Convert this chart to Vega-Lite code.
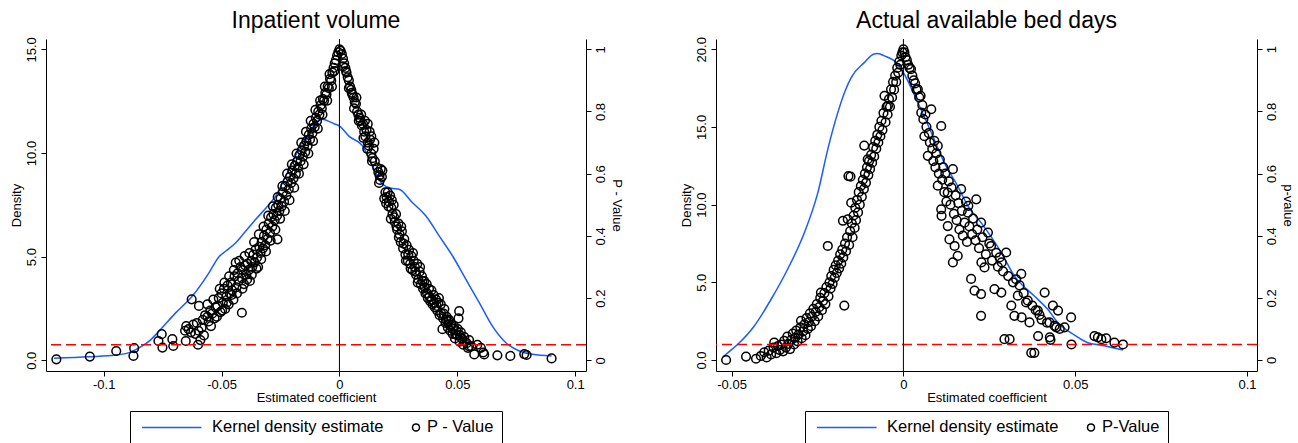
{
  "$schema": "https://vega.github.io/schema/vega-lite/v6.json",
  "padding": {"left": 10, "top": 9, "right": 5, "bottom": 0},
  "background": "white",
  "bounds": "flush",
  "spacing": 130,
  "config": {
    "font": "Liberation Sans",
    "view": {"stroke": null},
    "axis": {"domainColor": "black", "tickColor": "black", "labelColor": "black", "titleColor": "black", "grid": false, "labelFontSize": 13, "titleFontSize": 13, "titleFontWeight": "normal", "tickSize": 5, "domainWidth": 1, "tickWidth": 1, "labelFont": "Liberation Sans", "titleFont": "Liberation Sans"},
    "title": {"fontSize": 23, "fontWeight": "normal", "color": "black", "font": "Liberation Sans", "offset": 0},
    "legend": {"orient": "bottom", "direction": "horizontal", "labelFontSize": 16.5, "labelFont": "Liberation Sans", "labelColor": "black", "labelLimit": 0, "strokeColor": "black", "strokeWidth": 1, "padding": 8, "symbolSize": 49, "symbolStrokeWidth": 1.5, "symbolOpacity": 1, "columnPadding": 25, "offset": 7, "layout": {"bottom": {"anchor": "middle"}}}
  },
  "resolve": {"scale": {"color": "independent", "shape": "independent"}, "legend": {"color": "independent", "shape": "independent"}},
  "hconcat": [
    {
      "width": 540,
      "height": 332,
      "title": {"text": "Inpatient volume"},
      "resolve": {"scale": {"y": "independent"}},
      "layer": [
        {
          "data": {"values": [
            {"coef": -0.1211, "density": 0.10}, {"coef": -0.1062, "density": 0.17}, {"coef": -0.0950, "density": 0.25}, {"coef": -0.0893, "density": 0.37}, {"coef": -0.0836, "density": 0.69}, {"coef": -0.0800, "density": 1.0}, {"coef": -0.0765, "density": 1.41}, {"coef": -0.0694, "density": 2.3}, {"coef": -0.0624, "density": 3.1}, {"coef": -0.0553, "density": 4.23}, {"coef": -0.0511, "density": 5.0}, {"coef": -0.0482, "density": 5.27}, {"coef": -0.0440, "density": 5.67}, {"coef": -0.0400, "density": 6.2}, {"coef": -0.0355, "density": 6.8}, {"coef": -0.0300, "density": 7.5}, {"coef": -0.0270, "density": 7.93}, {"coef": -0.0228, "density": 8.89}, {"coef": -0.0200, "density": 9.53}, {"coef": -0.0160, "density": 10.5}, {"coef": -0.0129, "density": 10.95}, {"coef": -0.0100, "density": 11.45}, {"coef": -0.0072, "density": 11.63}, {"coef": -0.0050, "density": 11.55}, {"coef": -0.0020, "density": 11.4}, {"coef": 0.0000, "density": 11.3}, {"coef": 0.0041, "density": 10.8}, {"coef": 0.0098, "density": 10.34}, {"coef": 0.0140, "density": 9.37}, {"coef": 0.0183, "density": 8.49}, {"coef": 0.0220, "density": 8.3}, {"coef": 0.0253, "density": 8.25}, {"coef": 0.0310, "density": 7.6}, {"coef": 0.0367, "density": 6.96}, {"coef": 0.0423, "density": 6.0}, {"coef": 0.0480, "density": 5.03}, {"coef": 0.0536, "density": 3.91}, {"coef": 0.0593, "density": 2.78}, {"coef": 0.0649, "density": 1.65}, {"coef": 0.0706, "density": 0.85}, {"coef": 0.0763, "density": 0.45}, {"coef": 0.0819, "density": 0.29}, {"coef": 0.0900, "density": 0.21}
          ]},
          "mark": {"type": "line", "strokeWidth": 1.5, "interpolate": "monotone"},
          "encoding": {
            "x": {"field": "coef", "type": "quantitative", "scale": {"domain": [-0.1245, 0.1046], "nice": false, "zero": false},
                  "axis": {"title": "Estimated coefficient", "values": [-0.1, -0.05, 0, 0.05, 0.1], "format": "~g", "labelExpr": "replace(datum.label, '−', '-')", "labelPadding": 2, "titlePadding": 0}},
            "y": {"field": "density", "type": "quantitative", "scale": {"domain": [-0.516, 15.497], "nice": false, "zero": false},
                  "axis": {"title": "Density", "values": [0, 5, 10, 15], "format": ".1f", "labelAngle": -90, "labelAlign": "center", "labelBaseline": "bottom", "labelPadding": 3, "titlePadding": 2}},
            "color": {"datum": "Kernel density estimate", "type": "nominal", "scale": {"domain": ["Kernel density estimate", "P - Value"], "range": ["#1a5cff", "black"]},
                      "legend": {"title": null, "encode": {"symbols": {"update": {"x": {"signal": "datum.index === 0 ? 60 : 4"}}}, "labels": {"update": {"x": {"signal": "datum.index === 0 ? 74 : 15"}}}}}}
          }
        },
        {
          "data": {"values": [
            {"coef": -0.1201, "p": 0.003}, {"coef": -0.1059, "p": 0.012}, {"coef": -0.0947, "p": 0.030}, {"coef": -0.0871, "p": 0.039}, {"coef": -0.0874, "p": 0.014}, {"coef": -0.0768, "p": 0.062}, {"coef": -0.0754, "p": 0.084}, {"coef": -0.0751, "p": 0.041}, {"coef": -0.0709, "p": 0.068}, {"coef": -0.0705, "p": 0.046}, {"coef": -0.0652, "p": 0.062}, {"coef": -0.0627, "p": 0.196}, {"coef": -0.0596, "p": 0.175},
            {"coef": -0.0655, "p": 0.095}, {"coef": -0.0650, "p": 0.110}, {"coef": -0.0640, "p": 0.100}, {"coef": -0.0630, "p": 0.090}, {"coef": -0.0620, "p": 0.115}, {"coef": -0.0612, "p": 0.085}, {"coef": -0.0605, "p": 0.120}, {"coef": -0.0600, "p": 0.050}, {"coef": -0.0598, "p": 0.095}, {"coef": -0.0590, "p": 0.065}, {"coef": -0.0585, "p": 0.105}, {"coef": -0.0580, "p": 0.130}, {"coef": -0.0575, "p": 0.080}, {"coef": -0.0570, "p": 0.145}, {"coef": -0.0560, "p": 0.140}, {"coef": -0.0555, "p": 0.125}, {"coef": -0.0548, "p": 0.160}, {"coef": -0.0540, "p": 0.150}, {"coef": -0.0535, "p": 0.195}, {"coef": -0.0530, "p": 0.135}, {"coef": -0.0525, "p": 0.170}, {"coef": -0.0518, "p": 0.175}, {"coef": -0.0512, "p": 0.200}, {"coef": -0.0505, "p": 0.155}, {"coef": -0.0500, "p": 0.215}, {"coef": -0.0495, "p": 0.185}, {"coef": -0.0490, "p": 0.230}, {"coef": -0.0485, "p": 0.165}, {"coef": -0.0480, "p": 0.205}, {"coef": -0.0475, "p": 0.240}, {"coef": -0.0470, "p": 0.180}, {"coef": -0.0465, "p": 0.215}, {"coef": -0.0460, "p": 0.250}, {"coef": -0.0455, "p": 0.225}, {"coef": -0.0450, "p": 0.195}, {"coef": -0.0445, "p": 0.270}, {"coef": -0.0440, "p": 0.314}, {"coef": -0.0437, "p": 0.235}, {"coef": -0.0432, "p": 0.280}, {"coef": -0.0428, "p": 0.255}, {"coef": -0.0414, "p": 0.153}, {"coef": -0.0420, "p": 0.300}, {"coef": -0.0415, "p": 0.265}, {"coef": -0.0410, "p": 0.290}, {"coef": -0.0405, "p": 0.245}, {"coef": -0.0400, "p": 0.305}, {"coef": -0.0395, "p": 0.275}, {"coef": -0.0390, "p": 0.310}, {"coef": -0.0385, "p": 0.290}, {"coef": -0.0380, "p": 0.255}, {"coef": -0.0375, "p": 0.320}, {"coef": -0.0370, "p": 0.300}, {"coef": -0.0365, "p": 0.340}, {"coef": -0.0360, "p": 0.315}, {"coef": -0.0355, "p": 0.357}, {"coef": -0.0350, "p": 0.330}, {"coef": -0.0345, "p": 0.300}, {"coef": -0.0340, "p": 0.365}, {"coef": -0.0335, "p": 0.345}, {"coef": -0.0330, "p": 0.380}, {"coef": -0.0325, "p": 0.360}, {"coef": -0.0320, "p": 0.400}, {"coef": -0.0315, "p": 0.370}, {"coef": -0.0310, "p": 0.420}, {"coef": -0.0305, "p": 0.390}, {"coef": -0.0300, "p": 0.440}, {"coef": -0.0295, "p": 0.410}, {"coef": -0.0290, "p": 0.460}, {"coef": -0.0285, "p": 0.430}, {"coef": -0.0280, "p": 0.470}, {"coef": -0.0275, "p": 0.450}, {"coef": -0.0270, "p": 0.490}, {"coef": -0.0265, "p": 0.465}, {"coef": -0.0263, "p": 0.389}, {"coef": -0.0260, "p": 0.500}, {"coef": -0.0255, "p": 0.480}, {"coef": -0.0250, "p": 0.520}, {"coef": -0.0245, "p": 0.495}, {"coef": -0.0240, "p": 0.540}, {"coef": -0.0235, "p": 0.510}, {"coef": -0.0230, "p": 0.560}, {"coef": -0.0225, "p": 0.530}, {"coef": -0.0220, "p": 0.575}, {"coef": -0.0215, "p": 0.550}, {"coef": -0.0210, "p": 0.590}, {"coef": -0.0205, "p": 0.570}, {"coef": -0.0200, "p": 0.610}, {"coef": -0.0195, "p": 0.585}, {"coef": -0.0190, "p": 0.625}, {"coef": -0.0185, "p": 0.600}, {"coef": -0.0180, "p": 0.640}, {"coef": -0.0175, "p": 0.620}, {"coef": -0.0170, "p": 0.660}, {"coef": -0.0165, "p": 0.640}, {"coef": -0.0160, "p": 0.675}, {"coef": -0.0155, "p": 0.655}, {"coef": -0.0150, "p": 0.690}, {"coef": -0.0145, "p": 0.670}, {"coef": -0.0140, "p": 0.705}, {"coef": -0.0135, "p": 0.690}, {"coef": -0.0130, "p": 0.725}, {"coef": -0.0125, "p": 0.710}, {"coef": -0.0120, "p": 0.745}, {"coef": -0.0115, "p": 0.730}, {"coef": -0.0110, "p": 0.760}, {"coef": -0.0105, "p": 0.750}, {"coef": -0.0100, "p": 0.780}, {"coef": -0.0095, "p": 0.770}, {"coef": -0.0090, "p": 0.800}, {"coef": -0.0085, "p": 0.790}, {"coef": -0.0080, "p": 0.820}, {"coef": -0.0075, "p": 0.810}, {"coef": -0.0070, "p": 0.840}, {"coef": -0.0065, "p": 0.835}, {"coef": -0.0060, "p": 0.860}, {"coef": -0.0055, "p": 0.855}, {"coef": -0.0050, "p": 0.880}, {"coef": -0.0045, "p": 0.875}, {"coef": -0.0040, "p": 0.905}, {"coef": -0.0035, "p": 0.900}, {"coef": -0.0030, "p": 0.925}, {"coef": -0.0025, "p": 0.940}, {"coef": -0.0020, "p": 0.955}, {"coef": -0.0015, "p": 0.965}, {"coef": -0.0010, "p": 0.980}, {"coef": -0.0005, "p": 0.990}, {"coef": 0.0000, "p": 1.000},
            {"coef": -0.0560, "p": 0.180}, {"coef": -0.0545, "p": 0.110}, {"coef": -0.0520, "p": 0.140}, {"coef": -0.0508, "p": 0.230}, {"coef": -0.0498, "p": 0.160}, {"coef": -0.0488, "p": 0.250}, {"coef": -0.0478, "p": 0.185}, {"coef": -0.0468, "p": 0.270}, {"coef": -0.0458, "p": 0.210}, {"coef": -0.0448, "p": 0.290}, {"coef": -0.0435, "p": 0.215}, {"coef": -0.0425, "p": 0.320}, {"coef": -0.0412, "p": 0.230}, {"coef": -0.0402, "p": 0.335}, {"coef": -0.0392, "p": 0.260}, {"coef": -0.0382, "p": 0.345}, {"coef": -0.0372, "p": 0.275}, {"coef": -0.0362, "p": 0.380}, {"coef": -0.0352, "p": 0.295}, {"coef": -0.0342, "p": 0.405}, {"coef": -0.0332, "p": 0.325}, {"coef": -0.0322, "p": 0.430}, {"coef": -0.0312, "p": 0.350}, {"coef": -0.0302, "p": 0.465}, {"coef": -0.0292, "p": 0.385}, {"coef": -0.0282, "p": 0.495}, {"coef": -0.0272, "p": 0.420}, {"coef": -0.0262, "p": 0.525}, {"coef": -0.0252, "p": 0.455}, {"coef": -0.0242, "p": 0.560}, {"coef": -0.0232, "p": 0.480}, {"coef": -0.0222, "p": 0.600}, {"coef": -0.0212, "p": 0.515}, {"coef": -0.0202, "p": 0.630}, {"coef": -0.0192, "p": 0.555}, {"coef": -0.0182, "p": 0.665}, {"coef": -0.0172, "p": 0.600}, {"coef": -0.0162, "p": 0.700}, {"coef": -0.0152, "p": 0.630}, {"coef": -0.0142, "p": 0.735}, {"coef": -0.0132, "p": 0.665}, {"coef": -0.0122, "p": 0.770}, {"coef": -0.0112, "p": 0.705}, {"coef": -0.0102, "p": 0.805}, {"coef": -0.0092, "p": 0.745}, {"coef": -0.0082, "p": 0.835}, {"coef": -0.0072, "p": 0.790}, {"coef": -0.0062, "p": 0.880}, {"coef": -0.0052, "p": 0.835}, {"coef": -0.0042, "p": 0.920}, {"coef": -0.0032, "p": 0.880}, {"coef": -0.0022, "p": 0.930},
            {"coef": 0.0005, "p": 0.995}, {"coef": 0.0010, "p": 0.985}, {"coef": 0.0015, "p": 0.970}, {"coef": 0.0020, "p": 0.955}, {"coef": 0.0025, "p": 0.940}, {"coef": 0.0030, "p": 0.925}, {"coef": 0.0035, "p": 0.910}, {"coef": 0.0040, "p": 0.900}, {"coef": 0.0045, "p": 0.880}, {"coef": 0.0050, "p": 0.870}, {"coef": 0.0055, "p": 0.855}, {"coef": 0.0060, "p": 0.845}, {"coef": 0.0065, "p": 0.830}, {"coef": 0.0070, "p": 0.825}, {"coef": 0.0075, "p": 0.800}, {"coef": 0.0080, "p": 0.790}, {"coef": 0.0085, "p": 0.780}, {"coef": 0.0090, "p": 0.770}, {"coef": 0.0095, "p": 0.755}, {"coef": 0.0100, "p": 0.760}, {"coef": 0.0105, "p": 0.735}, {"coef": 0.0110, "p": 0.720}, {"coef": 0.0115, "p": 0.740}, {"coef": 0.0120, "p": 0.700}, {"coef": 0.0125, "p": 0.690}, {"coef": 0.0130, "p": 0.710}, {"coef": 0.0135, "p": 0.665}, {"coef": 0.0140, "p": 0.650}, {"coef": 0.0145, "p": 0.680}, {"coef": 0.0150, "p": 0.640}, {"coef": 0.0135, "p": 0.720}, {"coef": 0.0120, "p": 0.760}, {"coef": 0.0165, "p": 0.605}, {"coef": 0.0170, "p": 0.595}, {"coef": 0.0175, "p": 0.615}, {"coef": 0.0180, "p": 0.590}, {"coef": 0.0172, "p": 0.580}, {"coef": 0.0182, "p": 0.610}, {"coef": 0.0168, "p": 0.570}, {"coef": 0.0195, "p": 0.540}, {"coef": 0.0200, "p": 0.525}, {"coef": 0.0205, "p": 0.540}, {"coef": 0.0210, "p": 0.510}, {"coef": 0.0215, "p": 0.530}, {"coef": 0.0220, "p": 0.490}, {"coef": 0.0225, "p": 0.470}, {"coef": 0.0218, "p": 0.455}, {"coef": 0.0230, "p": 0.500}, {"coef": 0.0235, "p": 0.445}, {"coef": 0.0240, "p": 0.470}, {"coef": 0.0245, "p": 0.420}, {"coef": 0.0250, "p": 0.440}, {"coef": 0.0255, "p": 0.405}, {"coef": 0.0260, "p": 0.380}, {"coef": 0.0265, "p": 0.415}, {"coef": 0.0270, "p": 0.360}, {"coef": 0.0275, "p": 0.390}, {"coef": 0.0280, "p": 0.340}, {"coef": 0.0285, "p": 0.370}, {"coef": 0.0290, "p": 0.320}, {"coef": 0.0295, "p": 0.355}, {"coef": 0.0300, "p": 0.310}, {"coef": 0.0305, "p": 0.335}, {"coef": 0.0310, "p": 0.290}, {"coef": 0.0315, "p": 0.320}, {"coef": 0.0320, "p": 0.300}, {"coef": 0.0325, "p": 0.275}, {"coef": 0.0330, "p": 0.310}, {"coef": 0.0335, "p": 0.260}, {"coef": 0.0340, "p": 0.285}, {"coef": 0.0345, "p": 0.245}, {"coef": 0.0350, "p": 0.270}, {"coef": 0.0355, "p": 0.230}, {"coef": 0.0360, "p": 0.255}, {"coef": 0.0365, "p": 0.215}, {"coef": 0.0370, "p": 0.245}, {"coef": 0.0375, "p": 0.200}, {"coef": 0.0380, "p": 0.230}, {"coef": 0.0385, "p": 0.190}, {"coef": 0.0390, "p": 0.225}, {"coef": 0.0395, "p": 0.180}, {"coef": 0.0400, "p": 0.210}, {"coef": 0.0405, "p": 0.170}, {"coef": 0.0410, "p": 0.195}, {"coef": 0.0415, "p": 0.160}, {"coef": 0.0420, "p": 0.185}, {"coef": 0.0425, "p": 0.145}, {"coef": 0.0430, "p": 0.180}, {"coef": 0.0437, "p": 0.100}, {"coef": 0.0440, "p": 0.135}, {"coef": 0.0445, "p": 0.165}, {"coef": 0.0450, "p": 0.120}, {"coef": 0.0455, "p": 0.140}, {"coef": 0.0460, "p": 0.105}, {"coef": 0.0465, "p": 0.130}, {"coef": 0.0470, "p": 0.095}, {"coef": 0.0475, "p": 0.115}, {"coef": 0.0480, "p": 0.085}, {"coef": 0.0485, "p": 0.110}, {"coef": 0.0490, "p": 0.070}, {"coef": 0.0495, "p": 0.095}, {"coef": 0.0500, "p": 0.080}, {"coef": 0.0505, "p": 0.135}, {"coef": 0.0508, "p": 0.158}, {"coef": 0.0510, "p": 0.060}, {"coef": 0.0515, "p": 0.090}, {"coef": 0.0520, "p": 0.070}, {"coef": 0.0525, "p": 0.050}, {"coef": 0.0530, "p": 0.075}, {"coef": 0.0540, "p": 0.055}, {"coef": 0.0545, "p": 0.040}, {"coef": 0.0550, "p": 0.065}, {"coef": 0.0560, "p": 0.045}, {"coef": 0.0572, "p": 0.019}, {"coef": 0.0585, "p": 0.050}, {"coef": 0.0600, "p": 0.040}, {"coef": 0.0610, "p": 0.025}, {"coef": 0.0614, "p": 0.019}, {"coef": 0.0670, "p": 0.016}, {"coef": 0.0725, "p": 0.014}, {"coef": 0.0784, "p": 0.020}, {"coef": 0.0794, "p": 0.017}, {"coef": 0.0900, "p": 0.006},
            {"coef": 0.0015, "p": 0.945}, {"coef": 0.0028, "p": 0.930}, {"coef": 0.0040, "p": 0.875}, {"coef": 0.0052, "p": 0.860}, {"coef": 0.0062, "p": 0.810}, {"coef": 0.0072, "p": 0.845}, {"coef": 0.0082, "p": 0.770}, {"coef": 0.0092, "p": 0.790}, {"coef": 0.0102, "p": 0.715}, {"coef": 0.0108, "p": 0.770}, {"coef": 0.0118, "p": 0.680}, {"coef": 0.0128, "p": 0.735}, {"coef": 0.0138, "p": 0.640}, {"coef": 0.0148, "p": 0.700}, {"coef": 0.0160, "p": 0.620}, {"coef": 0.0190, "p": 0.520}, {"coef": 0.0198, "p": 0.505}, {"coef": 0.0208, "p": 0.495}, {"coef": 0.0222, "p": 0.515}, {"coef": 0.0232, "p": 0.460}, {"coef": 0.0242, "p": 0.430}, {"coef": 0.0252, "p": 0.395}, {"coef": 0.0262, "p": 0.430}, {"coef": 0.0272, "p": 0.375}, {"coef": 0.0282, "p": 0.320}, {"coef": 0.0292, "p": 0.340}, {"coef": 0.0302, "p": 0.295}, {"coef": 0.0312, "p": 0.345}, {"coef": 0.0322, "p": 0.285}, {"coef": 0.0332, "p": 0.250}, {"coef": 0.0342, "p": 0.300}, {"coef": 0.0352, "p": 0.255}, {"coef": 0.0362, "p": 0.235}, {"coef": 0.0372, "p": 0.215}, {"coef": 0.0382, "p": 0.205}, {"coef": 0.0392, "p": 0.195}, {"coef": 0.0402, "p": 0.185}, {"coef": 0.0412, "p": 0.175}, {"coef": 0.0422, "p": 0.200}, {"coef": 0.0432, "p": 0.150}, {"coef": 0.0442, "p": 0.150}, {"coef": 0.0452, "p": 0.130}, {"coef": 0.0462, "p": 0.125}, {"coef": 0.0472, "p": 0.110}, {"coef": 0.0482, "p": 0.100}, {"coef": 0.0492, "p": 0.085}, {"coef": 0.0502, "p": 0.100}, {"coef": 0.0512, "p": 0.080}, {"coef": 0.0532, "p": 0.060}, {"coef": 0.0550, "p": 0.045}
          ]},
          "mark": {"type": "point", "filled": false, "size": 75, "strokeWidth": 1.5, "opacity": 1},
          "encoding": {
            "x": {"field": "coef", "type": "quantitative"},
            "y": {"field": "p", "type": "quantitative", "scale": {"domain": [-0.0344, 1.0331], "nice": false, "zero": false},
                  "axis": {"orient": "right", "title": "P - Value", "values": [0, 0.2, 0.4, 0.6, 0.8, 1], "format": "~g", "labelAngle": -90, "labelAlign": "center", "labelBaseline": "top", "labelPadding": 3, "titlePadding": 2}},
            "color": {"datum": "P - Value", "type": "nominal", "scale": {"domain": ["Kernel density estimate", "P - Value"], "range": ["#1a5cff", "black"]},
                      "legend": {"title": null, "encode": {"symbols": {"update": {"x": {"signal": "datum.index === 0 ? 60 : 4"}}}, "labels": {"update": {"x": {"signal": "datum.index === 0 ? 74 : 15"}}}}}},
            "shape": {"datum": "P - Value", "type": "nominal", "scale": {"domain": ["Kernel density estimate", "P - Value"], "range": ["M-16,0H1", "circle"]},
                      "legend": {"title": null, "encode": {"symbols": {"update": {"x": {"signal": "datum.index === 0 ? 60 : 4"}}}, "labels": {"update": {"x": {"signal": "datum.index === 0 ? 74 : 15"}}}}}}
          }
        },
        {
          "data": {"values": [{"p": 0.05}]},
          "mark": {"type": "rule", "color": "#ff0000", "strokeDash": [10, 5], "strokeWidth": 1.5},
          "encoding": {"y": {"field": "p", "type": "quantitative", "scale": {"domain": [-0.0344, 1.0331], "nice": false, "zero": false}, "axis": null}}
        },
        {
          "data": {"values": [{"coef": 0}]},
          "mark": {"type": "rule", "color": "black", "strokeWidth": 1},
          "encoding": {"x": {"field": "coef", "type": "quantitative"}}
        }
      ]
    },
    {
      "width": 541,
      "height": 332,
      "title": {"text": "Actual available bed days"},
      "resolve": {"scale": {"y": "independent"}},
      "layer": [
        {
          "data": {"values": [
            {"coef": -0.0525, "density": 0.2}, {"coef": -0.0516, "density": 0.37}, {"coef": -0.0482, "density": 1.01}, {"coef": -0.0434, "density": 2.19}, {"coef": -0.0385, "density": 3.91}, {"coef": -0.0337, "density": 5.84}, {"coef": -0.0288, "density": 8.2}, {"coef": -0.0249, "density": 10.77}, {"coef": -0.0220, "density": 13.57}, {"coef": -0.0191, "density": 15.92}, {"coef": -0.0170, "density": 17.3}, {"coef": -0.0152, "density": 18.18}, {"coef": -0.0114, "density": 19.14}, {"coef": -0.0085, "density": 19.7}, {"coef": -0.0075, "density": 19.72}, {"coef": -0.0055, "density": 19.57}, {"coef": -0.0016, "density": 19.04}, {"coef": 0.0000, "density": 18.5}, {"coef": 0.0042, "density": 16.57}, {"coef": 0.0081, "density": 14.64}, {"coef": 0.0119, "density": 12.7}, {"coef": 0.0158, "density": 11.2}, {"coef": 0.0188, "density": 9.9}, {"coef": 0.0226, "density": 8.84}, {"coef": 0.0285, "density": 6.91}, {"coef": 0.0323, "density": 5.41}, {"coef": 0.0381, "density": 4.12}, {"coef": 0.0420, "density": 3.26}, {"coef": 0.0450, "density": 2.4}, {"coef": 0.0498, "density": 1.6}, {"coef": 0.0537, "density": 1.11}, {"coef": 0.0576, "density": 0.95}, {"coef": 0.0639, "density": 0.64}
          ]},
          "mark": {"type": "line", "strokeWidth": 1.5, "interpolate": "monotone"},
          "encoding": {
            "x": {"field": "coef", "type": "quantitative", "scale": {"domain": [-0.05454, 0.1029], "nice": false, "zero": false},
                  "axis": {"title": "Estimated coefficient", "values": [-0.05, 0, 0.05, 0.1], "format": "~g", "labelExpr": "replace(datum.label, '−', '-')", "labelPadding": 2, "titlePadding": 0}},
            "y": {"field": "density", "type": "quantitative", "scale": {"domain": [-0.708, 20.66], "nice": false, "zero": false},
                  "axis": {"title": "Density", "values": [0, 5, 10, 15, 20], "format": ".1f", "labelAngle": -90, "labelAlign": "center", "labelBaseline": "bottom", "labelPadding": 3, "titlePadding": 2}},
            "color": {"datum": "Kernel density estimate", "type": "nominal", "scale": {"domain": ["Kernel density estimate", "P-Value"], "range": ["#1a5cff", "black"]},
                      "legend": {"title": null, "encode": {"symbols": {"update": {"x": {"signal": "datum.index === 0 ? 60 : 4"}}}, "labels": {"update": {"x": {"signal": "datum.index === 0 ? 74 : 15"}}}}}}
          }
        },
        {
          "data": {"values": [
            {"coef": -0.0516, "p": 0.000}, {"coef": -0.0458, "p": 0.011}, {"coef": -0.0429, "p": 0.004}, {"coef": -0.0415, "p": 0.013}, {"coef": -0.0405, "p": 0.025}, {"coef": -0.0398, "p": 0.008}, {"coef": -0.0392, "p": 0.030}, {"coef": -0.0385, "p": 0.018}, {"coef": -0.0378, "p": 0.040}, {"coef": -0.0376, "p": 0.056}, {"coef": -0.0370, "p": 0.022}, {"coef": -0.0365, "p": 0.045}, {"coef": -0.0360, "p": 0.032}, {"coef": -0.0355, "p": 0.050}, {"coef": -0.0350, "p": 0.028}, {"coef": -0.0347, "p": 0.062}, {"coef": -0.0342, "p": 0.040}, {"coef": -0.0338, "p": 0.075}, {"coef": -0.0335, "p": 0.052}, {"coef": -0.0330, "p": 0.035}, {"coef": -0.0326, "p": 0.065}, {"coef": -0.0322, "p": 0.085}, {"coef": -0.0318, "p": 0.050}, {"coef": -0.0315, "p": 0.072}, {"coef": -0.0312, "p": 0.095}, {"coef": -0.0308, "p": 0.060}, {"coef": -0.0305, "p": 0.082}, {"coef": -0.0300, "p": 0.105}, {"coef": -0.0298, "p": 0.126}, {"coef": -0.0296, "p": 0.070}, {"coef": -0.0292, "p": 0.092}, {"coef": -0.0288, "p": 0.115}, {"coef": -0.0285, "p": 0.080}, {"coef": -0.0282, "p": 0.135}, {"coef": -0.0278, "p": 0.100}, {"coef": -0.0275, "p": 0.122}, {"coef": -0.0272, "p": 0.150}, {"coef": -0.0269, "p": 0.109}, {"coef": -0.0266, "p": 0.140}, {"coef": -0.0262, "p": 0.165}, {"coef": -0.0258, "p": 0.125}, {"coef": -0.0255, "p": 0.155}, {"coef": -0.0252, "p": 0.180}, {"coef": -0.0248, "p": 0.140}, {"coef": -0.0245, "p": 0.170}, {"coef": -0.0242, "p": 0.200}, {"coef": -0.0240, "p": 0.217}, {"coef": -0.0237, "p": 0.160}, {"coef": -0.0234, "p": 0.190}, {"coef": -0.0230, "p": 0.215}, {"coef": -0.0227, "p": 0.180}, {"coef": -0.0224, "p": 0.235}, {"coef": -0.0220, "p": 0.367}, {"coef": -0.0218, "p": 0.205}, {"coef": -0.0215, "p": 0.250}, {"coef": -0.0212, "p": 0.230}, {"coef": -0.0210, "p": 0.270}, {"coef": -0.0206, "p": 0.245}, {"coef": -0.0203, "p": 0.290}, {"coef": -0.0200, "p": 0.265}, {"coef": -0.0197, "p": 0.305}, {"coef": -0.0194, "p": 0.280}, {"coef": -0.0190, "p": 0.320}, {"coef": -0.0187, "p": 0.295}, {"coef": -0.0184, "p": 0.340}, {"coef": -0.0181, "p": 0.310}, {"coef": -0.0178, "p": 0.355}, {"coef": -0.0176, "p": 0.448}, {"coef": -0.0175, "p": 0.330}, {"coef": -0.0172, "p": 0.175}, {"coef": -0.0170, "p": 0.375}, {"coef": -0.0167, "p": 0.350}, {"coef": -0.0164, "p": 0.395}, {"coef": -0.0162, "p": 0.453}, {"coef": -0.0160, "p": 0.592}, {"coef": -0.0158, "p": 0.370}, {"coef": -0.0155, "p": 0.415}, {"coef": -0.0154, "p": 0.590}, {"coef": -0.0152, "p": 0.506}, {"coef": -0.0150, "p": 0.440}, {"coef": -0.0148, "p": 0.395}, {"coef": -0.0145, "p": 0.465}, {"coef": -0.0142, "p": 0.425}, {"coef": -0.0140, "p": 0.490}, {"coef": -0.0138, "p": 0.450}, {"coef": -0.0135, "p": 0.515}, {"coef": -0.0132, "p": 0.475}, {"coef": -0.0130, "p": 0.540}, {"coef": -0.0127, "p": 0.500}, {"coef": -0.0124, "p": 0.560}, {"coef": -0.0121, "p": 0.525}, {"coef": -0.0118, "p": 0.580}, {"coef": -0.0115, "p": 0.550}, {"coef": -0.0114, "p": 0.690}, {"coef": -0.0112, "p": 0.600}, {"coef": -0.0109, "p": 0.570}, {"coef": -0.0106, "p": 0.620}, {"coef": -0.0104, "p": 0.646}, {"coef": -0.0102, "p": 0.595}, {"coef": -0.0100, "p": 0.640}, {"coef": -0.0097, "p": 0.615}, {"coef": -0.0094, "p": 0.660}, {"coef": -0.0091, "p": 0.635}, {"coef": -0.0088, "p": 0.685}, {"coef": -0.0085, "p": 0.655}, {"coef": -0.0082, "p": 0.705}, {"coef": -0.0079, "p": 0.680}, {"coef": -0.0076, "p": 0.725}, {"coef": -0.0073, "p": 0.700}, {"coef": -0.0070, "p": 0.750}, {"coef": -0.0067, "p": 0.720}, {"coef": -0.0064, "p": 0.770}, {"coef": -0.0061, "p": 0.740}, {"coef": -0.0058, "p": 0.795}, {"coef": -0.0055, "p": 0.850}, {"coef": -0.0052, "p": 0.765}, {"coef": -0.0049, "p": 0.815}, {"coef": -0.0046, "p": 0.790}, {"coef": -0.0045, "p": 0.818}, {"coef": -0.0042, "p": 0.840}, {"coef": -0.0039, "p": 0.815}, {"coef": -0.0036, "p": 0.871}, {"coef": -0.0033, "p": 0.845}, {"coef": -0.0030, "p": 0.895}, {"coef": -0.0027, "p": 0.870}, {"coef": -0.0024, "p": 0.915}, {"coef": -0.0021, "p": 0.895}, {"coef": -0.0018, "p": 0.940}, {"coef": -0.0015, "p": 0.925}, {"coef": -0.0012, "p": 0.960}, {"coef": -0.0009, "p": 0.950}, {"coef": -0.0006, "p": 0.980}, {"coef": -0.0003, "p": 0.990}, {"coef": 0.0000, "p": 1.000},
            {"coef": 0.0003, "p": 0.990}, {"coef": 0.0006, "p": 0.975}, {"coef": 0.0010, "p": 0.965}, {"coef": 0.0014, "p": 0.950}, {"coef": 0.0018, "p": 0.940}, {"coef": 0.0022, "p": 0.936}, {"coef": 0.0026, "p": 0.915}, {"coef": 0.0030, "p": 0.900}, {"coef": 0.0034, "p": 0.890}, {"coef": 0.0038, "p": 0.870}, {"coef": 0.0042, "p": 0.871}, {"coef": 0.0046, "p": 0.845}, {"coef": 0.0050, "p": 0.850}, {"coef": 0.0052, "p": 0.796}, {"coef": 0.0055, "p": 0.820}, {"coef": 0.0058, "p": 0.775}, {"coef": 0.0061, "p": 0.720}, {"coef": 0.0064, "p": 0.790}, {"coef": 0.0067, "p": 0.750}, {"coef": 0.0071, "p": 0.657}, {"coef": 0.0074, "p": 0.730}, {"coef": 0.0077, "p": 0.700}, {"coef": 0.0081, "p": 0.807}, {"coef": 0.0084, "p": 0.680}, {"coef": 0.0087, "p": 0.640}, {"coef": 0.0090, "p": 0.705}, {"coef": 0.0093, "p": 0.620}, {"coef": 0.0096, "p": 0.665}, {"coef": 0.0100, "p": 0.689}, {"coef": 0.0100, "p": 0.561}, {"coef": 0.0103, "p": 0.600}, {"coef": 0.0106, "p": 0.645}, {"coef": 0.0110, "p": 0.753}, {"coef": 0.0110, "p": 0.485}, {"coef": 0.0111, "p": 0.464}, {"coef": 0.0113, "p": 0.580}, {"coef": 0.0116, "p": 0.620}, {"coef": 0.0119, "p": 0.540}, {"coef": 0.0122, "p": 0.600}, {"coef": 0.0125, "p": 0.510}, {"coef": 0.0129, "p": 0.539}, {"coef": 0.0129, "p": 0.431}, {"coef": 0.0132, "p": 0.575}, {"coef": 0.0134, "p": 0.388}, {"coef": 0.0137, "p": 0.500}, {"coef": 0.0140, "p": 0.555}, {"coef": 0.0144, "p": 0.614}, {"coef": 0.0144, "p": 0.314}, {"coef": 0.0147, "p": 0.470}, {"coef": 0.0149, "p": 0.367}, {"coef": 0.0152, "p": 0.530}, {"coef": 0.0155, "p": 0.450}, {"coef": 0.0158, "p": 0.335}, {"coef": 0.0160, "p": 0.505}, {"coef": 0.0163, "p": 0.420}, {"coef": 0.0168, "p": 0.550}, {"coef": 0.0170, "p": 0.480}, {"coef": 0.0173, "p": 0.400}, {"coef": 0.0178, "p": 0.442}, {"coef": 0.0182, "p": 0.510}, {"coef": 0.0185, "p": 0.380}, {"coef": 0.0188, "p": 0.474}, {"coef": 0.0189, "p": 0.496}, {"coef": 0.0192, "p": 0.430}, {"coef": 0.0197, "p": 0.261}, {"coef": 0.0200, "p": 0.405}, {"coef": 0.0203, "p": 0.455}, {"coef": 0.0207, "p": 0.223}, {"coef": 0.0210, "p": 0.385}, {"coef": 0.0212, "p": 0.517}, {"coef": 0.0215, "p": 0.420}, {"coef": 0.0220, "p": 0.360}, {"coef": 0.0226, "p": 0.442}, {"coef": 0.0227, "p": 0.314}, {"coef": 0.0226, "p": 0.212}, {"coef": 0.0226, "p": 0.142}, {"coef": 0.0230, "p": 0.395}, {"coef": 0.0236, "p": 0.298}, {"coef": 0.0240, "p": 0.340}, {"coef": 0.0246, "p": 0.410}, {"coef": 0.0250, "p": 0.375}, {"coef": 0.0255, "p": 0.367}, {"coef": 0.0258, "p": 0.320}, {"coef": 0.0265, "p": 0.228}, {"coef": 0.0270, "p": 0.345}, {"coef": 0.0275, "p": 0.300}, {"coef": 0.0280, "p": 0.330}, {"coef": 0.0285, "p": 0.217}, {"coef": 0.0286, "p": 0.314}, {"coef": 0.0290, "p": 0.285}, {"coef": 0.0294, "p": 0.067}, {"coef": 0.0299, "p": 0.346}, {"coef": 0.0305, "p": 0.270}, {"coef": 0.0309, "p": 0.067}, {"coef": 0.0314, "p": 0.175}, {"coef": 0.0319, "p": 0.250}, {"coef": 0.0323, "p": 0.142}, {"coef": 0.0328, "p": 0.260}, {"coef": 0.0333, "p": 0.207}, {"coef": 0.0338, "p": 0.240}, {"coef": 0.0343, "p": 0.277}, {"coef": 0.0344, "p": 0.137}, {"coef": 0.0350, "p": 0.215}, {"coef": 0.0357, "p": 0.185}, {"coef": 0.0362, "p": 0.191}, {"coef": 0.0367, "p": 0.121}, {"coef": 0.0372, "p": 0.023}, {"coef": 0.0375, "p": 0.175}, {"coef": 0.0381, "p": 0.023}, {"coef": 0.0385, "p": 0.160}, {"coef": 0.0391, "p": 0.159}, {"coef": 0.0392, "p": 0.077}, {"coef": 0.0396, "p": 0.145}, {"coef": 0.0402, "p": 0.130}, {"coef": 0.0411, "p": 0.217}, {"coef": 0.0418, "p": 0.120}, {"coef": 0.0425, "p": 0.121}, {"coef": 0.0426, "p": 0.073}, {"coef": 0.0428, "p": 0.065}, {"coef": 0.0435, "p": 0.175}, {"coef": 0.0440, "p": 0.110}, {"coef": 0.0445, "p": 0.105}, {"coef": 0.0450, "p": 0.159}, {"coef": 0.0455, "p": 0.100}, {"coef": 0.0469, "p": 0.105}, {"coef": 0.0488, "p": 0.137}, {"coef": 0.0489, "p": 0.050}, {"coef": 0.0556, "p": 0.077}, {"coef": 0.0566, "p": 0.073}, {"coef": 0.0576, "p": 0.067}, {"coef": 0.0590, "p": 0.070}, {"coef": 0.0614, "p": 0.056}, {"coef": 0.0639, "p": 0.050}
          ]},
          "mark": {"type": "point", "filled": false, "size": 75, "strokeWidth": 1.5, "opacity": 1},
          "encoding": {
            "x": {"field": "coef", "type": "quantitative"},
            "y": {"field": "p", "type": "quantitative", "scale": {"domain": [-0.0354, 1.033], "nice": false, "zero": false},
                  "axis": {"orient": "right", "title": "p-value", "values": [0, 0.2, 0.4, 0.6, 0.8, 1], "format": "~g", "labelAngle": -90, "labelAlign": "center", "labelBaseline": "top", "labelPadding": 3, "titlePadding": 2}},
            "color": {"datum": "P-Value", "type": "nominal", "scale": {"domain": ["Kernel density estimate", "P-Value"], "range": ["#1a5cff", "black"]},
                      "legend": {"title": null, "encode": {"symbols": {"update": {"x": {"signal": "datum.index === 0 ? 60 : 4"}}}, "labels": {"update": {"x": {"signal": "datum.index === 0 ? 74 : 15"}}}}}},
            "shape": {"datum": "P-Value", "type": "nominal", "scale": {"domain": ["Kernel density estimate", "P-Value"], "range": ["M-16,0H1", "circle"]},
                      "legend": {"title": null, "encode": {"symbols": {"update": {"x": {"signal": "datum.index === 0 ? 60 : 4"}}}, "labels": {"update": {"x": {"signal": "datum.index === 0 ? 74 : 15"}}}}}}
          }
        },
        {
          "data": {"values": [{"p": 0.05}]},
          "mark": {"type": "rule", "color": "#ff0000", "strokeDash": [10, 5], "strokeWidth": 1.5},
          "encoding": {"y": {"field": "p", "type": "quantitative", "scale": {"domain": [-0.0354, 1.033], "nice": false, "zero": false}, "axis": null}}
        },
        {
          "data": {"values": [{"coef": 0}]},
          "mark": {"type": "rule", "color": "black", "strokeWidth": 1},
          "encoding": {"x": {"field": "coef", "type": "quantitative"}}
        }
      ]
    }
  ]
}
